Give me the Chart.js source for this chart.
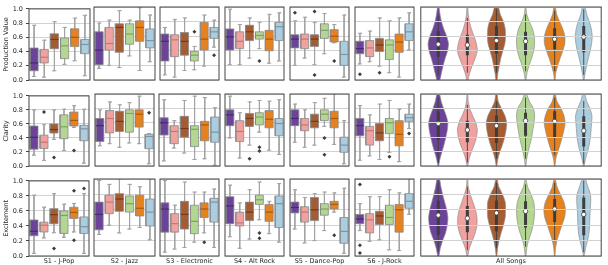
<!DOCTYPE html>
<html>
<head>
<meta charset="utf-8">
<script src="https://cdn.jsdelivr.net/npm/chart.js@4.4.1/dist/chart.umd.min.js"></script>
<style>
  html, body { margin: 0; padding: 0; background: #fff; }
  #wrap { position: relative; width: 608px; height: 265px; overflow: hidden; }
  #wrap canvas { position: absolute; }
</style>
</head>
<body>
<div id="wrap"></div>
<script>
const songs = ["S1 - J-Pop", "S2 - Jazz", "S3 - Electronic", "S4 - Alt Rock", "S5 - Dance-Pop", "S6 - J-Rock"];
const metrics = ["Production Value", "Clarity", "Excitement"];
const allLabel = "All Songs";
const yTicks = [0, 0.2, 0.4, 0.6, 0.8, 1.0];

// boxes: per song, per group -> [low whisker, q1, median, q3, high whisker]
const prodBoxes = [
  [[0.05,0.13,0.24,0.45,0.77],[0.04,0.24,0.32,0.43,0.56],[0.13,0.44,0.57,0.65,0.82],[0.22,0.30,0.48,0.59,0.74],[0.27,0.47,0.60,0.72,0.87],[0.06,0.37,0.50,0.57,0.91]],
  [[0.16,0.21,0.41,0.66,0.78],[0.20,0.41,0.50,0.72,0.82],[0.17,0.38,0.72,0.77,0.95],[0.33,0.49,0.63,0.77,0.82],[0.13,0.53,0.72,0.81,0.99],[0.25,0.44,0.54,0.70,0.89]],
  [[0.07,0.26,0.53,0.63,0.72],[0.04,0.32,0.55,0.62,0.83],[0.13,0.34,0.53,0.65,0.85],[0.14,0.26,0.34,0.39,0.46],[0.19,0.41,0.56,0.79,0.89],[0.45,0.57,0.66,0.72,0.82]],
  [[0.21,0.41,0.59,0.70,0.97],[0.21,0.43,0.53,0.66,0.76],[0.30,0.54,0.66,0.75,0.85],[0.43,0.56,0.61,0.66,0.79],[0.23,0.40,0.56,0.68,0.90],[0.26,0.54,0.73,0.79,0.92]],
  [[0.20,0.44,0.56,0.62,0.81],[0.30,0.43,0.56,0.63,0.86],[0.21,0.46,0.56,0.62,0.79],[0.36,0.57,0.68,0.77,0.91],[0.51,0.52,0.60,0.69,0.76],[0.04,0.20,0.35,0.53,0.89]],
  [[0.22,0.36,0.43,0.53,0.64],[0.25,0.32,0.44,0.54,0.67],[0.19,0.39,0.48,0.57,0.85],[0.10,0.28,0.48,0.55,0.81],[0.04,0.38,0.52,0.63,0.85],[0.41,0.54,0.66,0.77,0.92]]
];
const clarBoxes = [
  [[0.155,0.24,0.41,0.57,0.80],[0.08,0.25,0.34,0.44,0.59],[0.38,0.47,0.52,0.60,0.80],[0.22,0.39,0.56,0.73,0.81],[0.55,0.57,0.65,0.77,0.86],[0.04,0.36,0.53,0.58,0.81]],
  [[0.28,0.34,0.56,0.66,0.78],[0.31,0.46,0.66,0.77,0.89],[0.26,0.48,0.62,0.76,0.85],[0.32,0.47,0.73,0.78,0.88],[0.31,0.54,0.72,0.78,0.97],[0.03,0.24,0.41,0.44,0.45]],
  [[0.07,0.43,0.60,0.67,0.92],[0.25,0.31,0.48,0.56,0.63],[0.18,0.40,0.52,0.69,0.91],[0.09,0.27,0.51,0.56,0.97],[0.10,0.35,0.57,0.62,0.95],[0.01,0.33,0.47,0.68,0.81]],
  [[0.39,0.56,0.71,0.78,0.97],[0.11,0.34,0.48,0.63,0.74],[0.29,0.55,0.66,0.73,0.89],[0.47,0.57,0.68,0.74,0.91],[0.22,0.53,0.65,0.77,0.90],[0.16,0.42,0.59,0.66,0.92]],
  [[0.33,0.56,0.66,0.78,0.86],[0.26,0.49,0.57,0.66,0.78],[0.29,0.53,0.62,0.72,0.88],[0.55,0.63,0.72,0.78,0.94],[0.30,0.53,0.66,0.76,1.00],[0.03,0.19,0.29,0.40,0.63]],
  [[0.08,0.42,0.56,0.66,0.84],[0.14,0.29,0.49,0.55,0.71],[0.09,0.35,0.46,0.59,0.86],[0.19,0.45,0.60,0.66,0.91],[0.06,0.28,0.44,0.63,0.79],[0.52,0.62,0.67,0.72,0.86]]
];
const exciBoxes = [
  [[0.035,0.27,0.33,0.48,0.81],[0.24,0.32,0.41,0.45,0.65],[0.31,0.43,0.55,0.63,0.83],[0.25,0.30,0.54,0.60,0.69],[0.32,0.50,0.58,0.65,0.70],[0.035,0.30,0.39,0.52,0.83]],
  [[0.28,0.34,0.54,0.70,0.98],[0.40,0.55,0.70,0.79,0.93],[0.30,0.58,0.74,0.81,1.00],[0.35,0.57,0.68,0.78,0.93],[0.37,0.52,0.62,0.79,0.90],[0.21,0.39,0.57,0.74,1.00]],
  [[0.05,0.31,0.61,0.69,0.98],[0.09,0.31,0.42,0.55,0.66],[0.11,0.35,0.54,0.71,0.96],[0.18,0.29,0.45,0.66,0.83],[0.30,0.50,0.61,0.69,0.83],[0.11,0.44,0.70,0.75,0.87]],
  [[0.25,0.42,0.65,0.77,0.92],[0.10,0.39,0.43,0.57,0.69],[0.22,0.46,0.57,0.70,0.86],[0.47,0.67,0.73,0.79,0.96],[0.29,0.45,0.57,0.67,0.71],[0.18,0.37,0.68,0.78,0.94]],
  [[0.35,0.56,0.63,0.70,0.86],[0.17,0.44,0.57,0.64,0.76],[0.20,0.46,0.60,0.76,0.81],[0.33,0.53,0.61,0.68,0.83],[0.57,0.61,0.67,0.71,0.82],[0.035,0.165,0.32,0.50,0.88]],
  [[0.33,0.42,0.48,0.54,0.68],[0.19,0.30,0.47,0.55,0.77],[0.21,0.41,0.52,0.58,0.77],[0.08,0.41,0.50,0.66,0.86],[0.07,0.31,0.60,0.67,0.82],[0.54,0.62,0.71,0.81,1.00]]
];

// outliers: [song, group, value]
const prodFliers = [[2,3,0.66],[2,5,0.34],[3,3,0.26],[4,0,0.92],[4,2,0.94],[4,2,0.07],[4,4,0.26],[5,0,0.08],[5,2,0.10]];
const clarFliers = [[0,1,0.77],[0,2,0.12],[0,4,0.22],[1,5,0.74],[3,3,0.26],[3,3,0.21],[3,2,0.10],[4,3,0.39],[4,3,0.155],[5,3,0.13],[5,5,0.45]];
const exciFliers = [[0,2,0.10],[0,4,0.87],[0,4,0.21],[0,5,0.90],[2,4,0.18],[3,3,0.30],[3,3,0.23],[4,4,0.27],[5,0,0.93],[5,0,0.14],[5,0,0.04]];

// All Songs violins: half widths at each level, per group
const violinLevels = [0, 0.1, 0.2, 0.3, 0.4, 0.5, 0.6, 0.7, 0.8, 0.9, 1.0];
const prodViolin = [
  [0.05,0.11,0.17,0.24,0.32,0.35,0.29,0.19,0.11,0.06,0.02],
  [0.02,0.08,0.17,0.27,0.34,0.31,0.23,0.14,0.07,0.03,0.01],
  [0.02,0.05,0.10,0.15,0.22,0.29,0.31,0.30,0.24,0.13,0.06],
  [0.01,0.05,0.12,0.21,0.28,0.31,0.30,0.24,0.13,0.04,0.01],
  [0.01,0.04,0.11,0.19,0.28,0.35,0.35,0.28,0.17,0.07,0.02],
  [0.01,0.05,0.10,0.16,0.22,0.27,0.29,0.26,0.19,0.10,0.04]
];
const clarViolin = [
  [0.01,0.06,0.13,0.20,0.26,0.31,0.33,0.27,0.18,0.10,0.04],
  [0.01,0.06,0.14,0.24,0.31,0.34,0.29,0.18,0.08,0.03,0.01],
  [0.01,0.05,0.12,0.21,0.28,0.33,0.35,0.29,0.17,0.06,0.02],
  [0.01,0.04,0.09,0.15,0.21,0.25,0.29,0.31,0.27,0.13,0.03],
  [0.01,0.04,0.11,0.19,0.26,0.32,0.36,0.32,0.22,0.08,0.02],
  [0.01,0.06,0.13,0.19,0.23,0.25,0.27,0.28,0.21,0.10,0.03]
];
const exciViolin = [
  [0.02,0.07,0.15,0.25,0.31,0.33,0.29,0.22,0.15,0.09,0.04],
  [0.01,0.07,0.17,0.27,0.33,0.33,0.28,0.19,0.10,0.03,0.01],
  [0.01,0.04,0.09,0.16,0.24,0.30,0.31,0.30,0.21,0.08,0.02],
  [0.01,0.04,0.10,0.19,0.26,0.30,0.31,0.28,0.19,0.07,0.01],
  [0.01,0.03,0.08,0.16,0.25,0.34,0.37,0.32,0.20,0.08,0.02],
  [0.01,0.06,0.13,0.18,0.20,0.21,0.22,0.24,0.23,0.14,0.05]
];
// inner box of each violin: [low, q1, median, q3, high]
const prodViolinStats = [[0.06,0.32,0.49,0.67,0.88],[0.10,0.34,0.48,0.62,0.85],[0.10,0.36,0.54,0.74,0.97],[0.12,0.34,0.53,0.66,0.90],[0.12,0.42,0.56,0.71,0.95],[0.07,0.38,0.59,0.74,0.97]];
const clarViolinStats = [[0.05,0.36,0.59,0.76,0.95],[0.05,0.33,0.50,0.63,0.85],[0.10,0.32,0.56,0.70,0.90],[0.10,0.42,0.63,0.74,0.95],[0.15,0.40,0.62,0.76,0.95],[0.03,0.27,0.49,0.69,0.90]];
const exciViolinStats = [[0.05,0.27,0.53,0.72,0.95],[0.08,0.31,0.49,0.65,0.90],[0.10,0.32,0.56,0.72,0.95],[0.12,0.37,0.58,0.71,0.93],[0.20,0.44,0.61,0.74,0.95],[0.05,0.27,0.54,0.76,0.98]];

const rows = [
  { boxes: prodBoxes, fliers: prodFliers, violin: prodViolin, stats: prodViolinStats },
  { boxes: clarBoxes, fliers: clarFliers, violin: clarViolin, stats: clarViolinStats },
  { boxes: exciBoxes, fliers: exciFliers, violin: exciViolin, stats: exciViolinStats }
];

// styling
const fills   = ["#6b449a", "#f0a2a1", "#a65c33", "#b3d693", "#e5811f", "#abcde0"];
const medians = ["#47296e", "#c97473", "#73391a", "#7da35c", "#a85a0c", "#7597ab"];
const edgeCol = "#8a8a8a";
const whiskerCol = "#a3a3a3";
const darkCol = "#3d3d3d";

const colLeft = [29, 94, 159, 224, 289, 354];
const colW = 61;
const vioLeft = 419, vioW = 184;
const rowTop = [7, 94, 179];
const rowH = [78, 77, 77];

Chart.defaults.font.family = "'DejaVu Sans', sans-serif";
Chart.defaults.font.size = 6.5;
Chart.defaults.color = "#262626";

const framePlugin = {
  id: "frame",
  afterDraw(chart) {
    const a = chart.chartArea, c = chart.ctx;
    c.save();
    c.strokeStyle = "#444";
    c.lineWidth = 1;
    c.strokeRect(a.left, a.top, a.right - a.left, a.bottom - a.top);
    c.restore();
  }
};

function pt(x, y) { return { x: x, y: y }; }

function boxSets(boxes, fliers, song) {
  const sets = [];
  boxes.forEach(function (b, g) {
    const lo = b[0], q1 = b[1], med = b[2], q3 = b[3], hi = b[4];
    sets.push({ data: [pt(g - 0.2, hi), pt(g + 0.2, hi), pt(g, hi), pt(g, lo), pt(g - 0.2, lo), pt(g + 0.2, lo)],
      borderColor: whiskerCol, borderWidth: 1, order: 3 });
    sets.push({ data: [pt(g - 0.4, q1), pt(g + 0.4, q1), pt(g + 0.4, q3), pt(g - 0.4, q3), pt(g - 0.4, q1)],
      borderColor: edgeCol, borderWidth: 0.8, backgroundColor: fills[g], fill: "shape", order: 2 });
    sets.push({ data: [pt(g - 0.4, med), pt(g + 0.4, med)], borderColor: medians[g], borderWidth: 1.2, order: 1 });
  });
  const pts = fliers.filter(function (f) { return f[0] === song; }).map(function (f) { return pt(f[1], f[2]); });
  sets.push({ data: pts, showLine: false, pointStyle: "rectRot", pointRadius: 2, pointBackgroundColor: darkCol,
    pointBorderColor: darkCol, pointBorderWidth: 0, order: 0 });
  return sets;
}

function violinSets(widths, stats) {
  const sets = [];
  widths.forEach(function (w, g) {
    const outline = [];
    violinLevels.forEach(function (lv, k) { outline.push(pt(g - w[k], lv)); });
    for (let k = violinLevels.length - 1; k >= 0; k--) outline.push(pt(g + w[k], violinLevels[k]));
    outline.push(pt(g - w[0], violinLevels[0]));
    sets.push({ data: outline, borderColor: "#8c8c8c", borderWidth: 0.7, backgroundColor: fills[g],
      fill: "shape", tension: 0.25, order: 4 });
    const s = stats[g];
    sets.push({ data: [pt(g, s[0]), pt(g, s[4])], borderColor: darkCol, borderWidth: 0.9, order: 3 });
    sets.push({ data: [pt(g, s[1]), pt(g, s[3])], borderColor: darkCol, borderWidth: 3, order: 2 });
    sets.push({ data: [pt(g, s[2])], showLine: false, pointRadius: 2.2, pointBackgroundColor: "#fff",
      pointBorderColor: darkCol, pointBorderWidth: 0.8, order: 1 });
  });
  return sets;
}

function makePanel(r, c) {
  const isVio = c === 6;
  const first = c === 0;
  const bottom = r === 2;
  const L = isVio ? vioLeft : colLeft[c];
  const W = isVio ? vioW : colW;
  const T = rowTop[r], H = rowH[r];
  const padL = first ? L : 3, padR = 3, padT = 5;
  const padB = bottom ? 265 - T - H : 5;

  const cv = document.createElement("canvas");
  cv.width = W + padL + padR;
  cv.height = H + padT + padB;
  cv.style.left = (L - padL) + "px";
  cv.style.top = (T - padT) + "px";
  document.getElementById("wrap").appendChild(cv);

  const datasets = isVio ? violinSets(rows[r].violin, rows[r].stats) : boxSets(rows[r].boxes[c], rows[r].fliers, c);

  new Chart(cv, {
    type: "scatter",
    data: { datasets: datasets },
    options: {
      responsive: false,
      animation: false,
      events: [],
      layout: { padding: { top: padT, right: padR, left: first ? 0 : padL, bottom: bottom ? 0 : padB } },
      datasets: { scatter: { showLine: true, pointRadius: 0, tension: 0, fill: false } },
      plugins: { legend: { display: false }, tooltip: { enabled: false } },
      scales: {
        x: {
          type: "linear",
          min: isVio ? -0.6 : -0.5,
          max: isVio ? 5.6 : 5.5,
          display: bottom,
          ticks: { display: false },
          grid: { display: false },
          border: { display: false },
          title: { display: true, text: isVio ? allLabel : songs[c], padding: { top: 0, bottom: 0 } },
          afterFit: function (s) { s.height = padB; }
        },
        y: {
          type: "linear",
          min: 0,
          max: 1,
          afterBuildTicks: function (s) { s.ticks = yTicks.map(function (v) { return { value: v }; }); },
          afterFit: function (s) { s.width = first ? L : 0; },
          ticks: { display: first, padding: 3, callback: function (v) { return v.toFixed(1); } },
          grid: { color: "#d2d2d2", lineWidth: 1, drawTicks: first, tickLength: 3, tickColor: "#444", z: isVio ? 1 : -1 },
          border: { display: false },
          title: { display: first, text: metrics[r], padding: { top: 2, bottom: 0 } }
        }
      }
    },
    plugins: [framePlugin]
  });
}

for (let r = 0; r < 3; r++) {
  for (let c = 0; c < 7; c++) makePanel(r, c);
}
</script>
</body>
</html>
